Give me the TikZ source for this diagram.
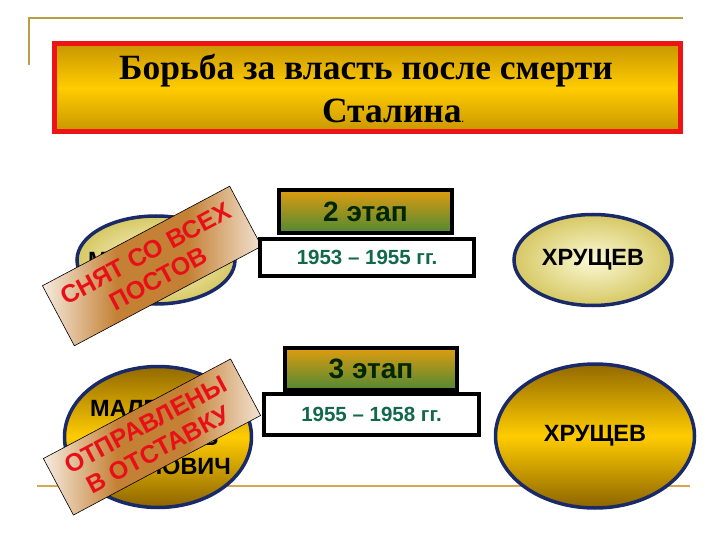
\documentclass[tikz,border=0pt]{standalone}
\usepackage{fontspec}
\setmainfont{Liberation Serif}
\setsansfont{Liberation Sans}
\usepackage{xcolor}
\usepackage{tikz}
\usetikzlibrary{shapes.geometric}
\definecolor{frameline}{RGB}{184,160,72}
\definecolor{bottomline}{RGB}{216,168,80}
\definecolor{titlered}{RGB}{236,20,20}
\definecolor{goldlight}{RGB}{255,204,0}
\definecolor{golddark}{RGB}{200,150,0}
\definecolor{goldbrown}{RGB}{140,100,0}
\definecolor{navyline}{RGB}{26,42,105}
\definecolor{paleinner}{RGB}{252,249,214}
\definecolor{paleouter}{RGB}{214,200,100}
\definecolor{headtop}{RGB}{222,156,16}
\definecolor{headbottom}{RGB}{80,136,52}
\definecolor{datesgreen}{RGB}{18,104,76}
\definecolor{stampred}{RGB}{232,16,24}
\definecolor{stampmid}{RGB}{196,128,52}
\pgfdeclarehorizontalshading{stampshade}{100bp}{color(0bp)=(white); color(22bp)=(white);
  color(42bp)=(stampmid); color(58bp)=(stampmid); color(80bp)=(white); color(100bp)=(white)}

\begin{document}
\begin{tikzpicture}[x=1pt,y=-1pt,
    paleoval/.style={ellipse,draw=navyline,line width=3.5pt,inner color=paleinner,outer color=paleouter},
    goldoval/.style={ellipse,draw=navyline,line width=3.5pt,top color=goldbrown!90!golddark,bottom color=goldbrown,middle color=goldlight},
    namefont/.style={font=\sffamily\bfseries\fontsize{23.5}{29}\selectfont,align=center},
    stagehead/.style={draw=black,line width=4pt,top color=headtop,bottom color=headbottom,
      font=\sffamily\bfseries\fontsize{28}{30}\selectfont,text=black!85!green},
    stagedates/.style={draw=black,line width=4pt,fill=white,
      font=\sffamily\bfseries\fontsize{20.5}{22}\selectfont,text=datesgreen},
    stamp/.style={draw=black,line width=0.6pt,rotate=28,shading=stampshade,
      minimum width=212pt,text=stampred,align=center,font=\sffamily\bfseries\fontsize{25}{28}\selectfont}]
  \useasboundingbox (0,0) rectangle (720,540);
  % frame lines
  \draw [frameline,line width=1.5pt] (29,65) -- (29,18) -- (683,18);
  \draw [bottomline,line width=2pt] (37,486) -- (690,486);
  % title
  \node [draw=titlered,line width=5pt,top color=golddark,bottom color=golddark,middle color=goldlight,
    minimum width=626pt,minimum height=88pt] (title) at (367.5,88) {};
  \node [anchor=base,font=\bfseries\fontsize{35.5}{38}\selectfont] (titleone) at (366,80) {Борьба за власть после смерти};
  \node [anchor=base,font=\bfseries\fontsize{35.5}{38}\selectfont] (titletwo) at (393,123) {Сталина\small.};
  % second stage
  \node [paleoval,minimum width=158pt,minimum height=88pt] (malenkov) at (156,260) {};
  \node [namefont] (malenkovname) at (156,260) {МАЛЕНКОВ};
  \node [stamp,minimum height=68pt] (removed) at (152,266) {СНЯТ СО ВСЕХ\\ПОСТОВ};
  \node [stagehead,minimum width=173pt,minimum height=43pt] (headtwo) at (365.5,211.5) {2 этап};
  \node [stagedates,minimum width=214pt,minimum height=37pt] (datestwo) at (367,257.5) {1953 -- 1955 гг.};
  \node [paleoval,minimum width=158pt,minimum height=91pt] (khrtwo) at (593,260) {};
  \node [namefont] (khrtwoname) at (593,260) {ХРУЩЕВ};
  % third stage
  \node [goldoval,minimum width=187pt,minimum height=141pt] (group) at (158,437) {};
  \node [namefont] (groupnames) at (158,437) {МАЛЕНКОВ\\МОЛОТОВ\\КАГАНОВИЧ};
  \node [stamp,minimum height=64pt] (retired) at (152,437) {ОТПРАВЛЕНЫ\\В ОТСТАВКУ};
  \node [stagehead,minimum width=172pt,minimum height=42pt] (headthree) at (371,369) {3 этап};
  \node [stagedates,minimum width=215pt,minimum height=41pt] (datesthree) at (371.5,414.5) {1955 -- 1958 гг.};
  \node [goldoval,minimum width=199pt,minimum height=144pt] (khrthree) at (595,436) {};
  \node [namefont] (khrthreename) at (595,436) {ХРУЩЕВ};
\end{tikzpicture}
\end{document}
